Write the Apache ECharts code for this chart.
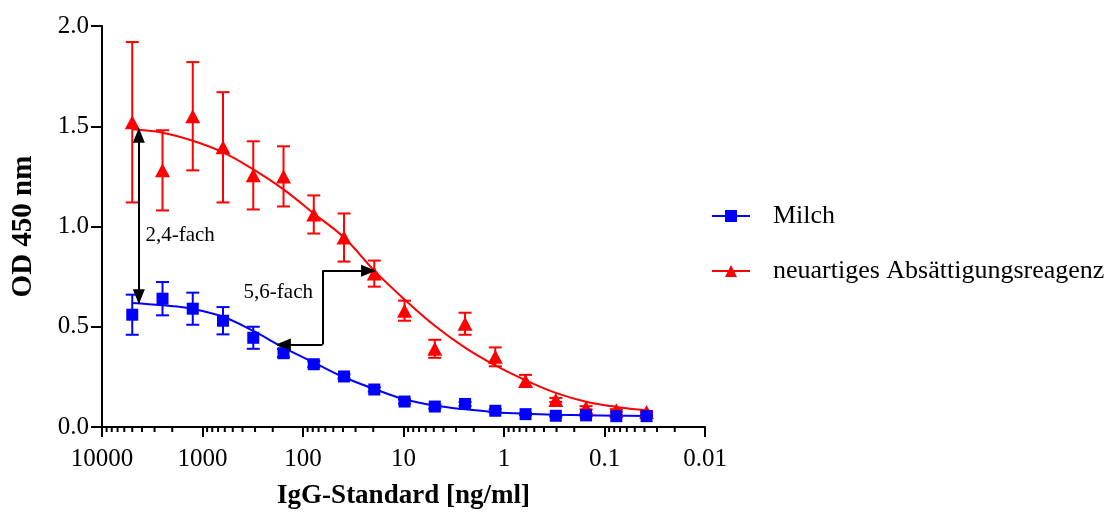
<!DOCTYPE html>
<html>
<head>
<meta charset="utf-8">
<script src="https://cdn.jsdelivr.net/npm/echarts@6/dist/echarts.min.js"></script>
<style>
html,body{margin:0;padding:0;background:#fff;}
#chart{width:1117px;height:515px;}
</style>
</head>
<body>
<div id="chart"></div>
<script>
// Concentrations (ng/ml), serial 1:2 dilution
var conc = [5000, 2500, 1250, 625, 312.5, 156.25, 78.125, 39.0625, 19.53125, 9.765625,
  4.8828125, 2.44140625, 1.220703125, 0.6103515625, 0.30517578125, 0.152587890625,
  0.0762939453125, 0.03814697265625];

// Milch (blue squares): mean OD and SD
var milchMean = [0.56, 0.64, 0.59, 0.53, 0.445, 0.368, 0.313, 0.252, 0.187, 0.127,
  0.102, 0.115, 0.081, 0.064, 0.056, 0.058, 0.054, 0.054];
var milchErr = [0.10, 0.083, 0.08, 0.068, 0.055, 0.02, 0.015, 0.01, 0.01, 0.01,
  0.01, 0.01, 0.008, 0.005, 0.005, 0.005, 0.005, 0.005];
// Milch fitted curve
var milchFit = [0.619, 0.607, 0.589, 0.55, 0.479, 0.396, 0.322, 0.248, 0.19, 0.138,
  0.107, 0.088, 0.074, 0.066, 0.061, 0.058, 0.056, 0.055];

// neuartiges Absättigungsreagenz (red triangles)
var neuMean = [1.52, 1.28, 1.55, 1.395, 1.255, 1.25, 1.06, 0.945, 0.765, 0.58,
  0.39, 0.515, 0.35, 0.23, 0.135, 0.096, 0.083, 0.075];
var neuErr = [0.40, 0.20, 0.27, 0.275, 0.17, 0.15, 0.095, 0.12, 0.065, 0.05,
  0.045, 0.055, 0.047, 0.03, 0.01, 0.008, 0.006, 0.005];
var neuFit = [1.485, 1.468, 1.428, 1.37, 1.285, 1.185, 1.065, 0.945, 0.78, 0.636,
  0.505, 0.396, 0.307, 0.233, 0.17, 0.126, 0.1, 0.083];

// Axis tick labels
var xTickValues = [10000, 1000, 100, 10, 1, 0.1, 0.01];
var xTickLabels = ['10000', '1000', '100', '10', '1', '0.1', '0.01'];
var yTickLabels = ['0.0', '0.5', '1.0', '1.5', '2.0'];

var seriesNames = ['Milch', 'neuartiges Absättigungsreagenz'];
var BLUE = '#0000ff', RED = '#ff0000';
var FONT = 'Liberation Serif';

// Annotation arrows (data coordinates)
var arrow24 = [[4300, 1.485], [4300, 0.62]];
var arrow56 = [[180, 0.412], [64, 0.412], [64, 0.779], [19.4, 0.779]];
var labels = [
  {text: '2,4-fach', at: [3700, 0.955]},
  {text: '5,6-fach', at: [390, 0.673]}
];

// Minor ticks of log axis (2..9 in each decade)
var minorTicks = [];
for (var d = -2; d < 4; d++) {
  for (var k = 2; k <= 9; k++) minorTicks.push(k * Math.pow(10, d));
}

function pairs(xs, ys) { return xs.map(function (x, i) { return [x, ys[i]]; }); }
function errData(xs, m, e) { return xs.map(function (x, i) { return [x, m[i] - e[i], m[i] + e[i]]; }); }

function errRender(color) {
  return function (params, api) {
    var x = api.value(0), lo = api.value(1), hi = api.value(2);
    var p1 = api.coord([x, hi]), p2 = api.coord([x, lo]);
    var w = 6.5;
    var st = {stroke: color, lineWidth: 2, fill: null};
    return {type: 'group', children: [
      {type: 'line', shape: {x1: p1[0], y1: p1[1], x2: p2[0], y2: p2[1]}, style: st},
      {type: 'line', shape: {x1: p1[0] - w, y1: p1[1], x2: p1[0] + w, y2: p1[1]}, style: st},
      {type: 'line', shape: {x1: p2[0] - w, y1: p2[1], x2: p2[0] + w, y2: p2[1]}, style: st}
    ]};
  };
}

var arrowSym = [12, 15];
var mlData = [
  [{coord: arrow24[0], symbol: 'triangle', symbolSize: arrowSym, symbolOffset: [0, 6]},
   {coord: arrow24[1], symbol: 'triangle', symbolSize: arrowSym, symbolOffset: [0, 6]}],
  [{coord: arrow56[1], symbol: 'none'},
   {coord: arrow56[0], symbol: 'triangle', symbolSize: arrowSym, symbolOffset: [0, 6]}],
  [{coord: arrow56[1], symbol: 'none'}, {coord: arrow56[2], symbol: 'none'}],
  [{coord: arrow56[2], symbol: 'none'},
   {coord: arrow56[3], symbol: 'triangle', symbolSize: arrowSym, symbolOffset: [0, 6]}]
];

var chart = echarts.init(document.getElementById('chart'), null, {renderer: 'canvas'});
chart.setOption({
  animation: false,
  backgroundColor: '#fff',
  textStyle: {fontFamily: FONT, color: '#000'},
  grid: {left: 102, top: 26, width: 603, height: 404, containLabel: false},
  legend: {
    orient: 'vertical',
    left: 706,
    top: 198,
    itemWidth: 38,
    itemHeight: 15,
    itemGap: 29,
    selectedMode: false,
    textStyle: {fontFamily: FONT, fontSize: 26, color: '#000', padding: [0, 0, 0, 18]},
    data: [
      {name: seriesNames[0], lineStyle: {opacity: 1, width: 2, color: BLUE}},
      {name: seriesNames[1], lineStyle: {opacity: 1, width: 2, color: RED}}
    ]
  },
  xAxis: {
    type: 'log',
    logBase: 10,
    min: 0.01,
    max: 10000,
    inverse: true,
    name: 'IgG-Standard [ng/ml]',
    nameLocation: 'middle',
    nameGap: 56,
    nameTextStyle: {fontFamily: FONT, fontWeight: 'bold', fontSize: 27, color: '#000'},
    axisLine: {show: true, lineStyle: {color: '#000', width: 2}},
    axisTick: {show: true, length: 10, lineStyle: {color: '#000', width: 2}},
    axisLabel: {
      fontFamily: FONT, fontSize: 25, color: '#000', margin: 20,
      formatter: function (v) {
        for (var i = 0; i < xTickValues.length; i++) {
          if (Math.abs(Math.log10(v) - Math.log10(xTickValues[i])) < 1e-6) return xTickLabels[i];
        }
        return '';
      }
    },
    splitLine: {show: false}
  },
  yAxis: {
    type: 'value',
    min: 0,
    max: 2,
    interval: 0.5,
    name: 'OD 450 nm',
    nameLocation: 'middle',
    nameGap: 64,
    nameTextStyle: {fontFamily: FONT, fontWeight: 'bold', fontSize: 29, color: '#000'},
    axisLine: {show: true, lineStyle: {color: '#000', width: 2}},
    axisTick: {show: true, length: 11, lineStyle: {color: '#000', width: 2}},
    axisLabel: {
      fontFamily: FONT, fontSize: 25, color: '#000', margin: 13,
      formatter: function (v) { return yTickLabels[Math.round(v / 0.5)]; }
    },
    splitLine: {show: false}
  },
  series: [
    {
      name: 'minorTicks', type: 'custom', silent: true, clip: false, z: 5,
      data: minorTicks.map(function (v) { return [v, 0]; }),
      renderItem: function (params, api) {
        var p = api.coord([api.value(0), 0]);
        return {type: 'line', shape: {x1: p[0], y1: p[1], x2: p[0], y2: p[1] + 5},
          style: {stroke: '#000', lineWidth: 2}};
      }
    },
    {
      name: 'milchFit', type: 'line', data: pairs(conc, milchFit), smooth: 0.4,
      showSymbol: false, symbol: 'none', silent: true, z: 2,
      lineStyle: {color: BLUE, width: 2}
    },
    {
      name: 'neuFit', type: 'line', data: pairs(conc, neuFit), smooth: 0.4,
      showSymbol: false, symbol: 'none', silent: true, z: 2,
      lineStyle: {color: RED, width: 2}
    },
    {
      name: 'neuErr', type: 'custom', silent: true, z: 3,
      data: errData(conc, neuMean, neuErr), renderItem: errRender(RED)
    },
    {
      name: 'milchErr', type: 'custom', silent: true, z: 3,
      data: errData(conc, milchMean, milchErr), renderItem: errRender(BLUE)
    },
    {
      name: seriesNames[1], type: 'line', data: pairs(conc, neuMean),
      symbol: 'triangle', symbolSize: [15, 14], showSymbol: true, z: 4,
      itemStyle: {color: RED}, color: RED,
      lineStyle: {width: 0, opacity: 0}
    },
    {
      name: seriesNames[0], type: 'line', data: pairs(conc, milchMean),
      symbol: 'rect', symbolSize: 12, showSymbol: true, z: 4,
      itemStyle: {color: BLUE}, color: BLUE,
      lineStyle: {width: 0, opacity: 0}
    },
    {
      name: 'annotations', type: 'scatter', data: [], silent: true, z: 6,
      markLine: {
        silent: true,
        animation: false,
        label: {show: false},
        lineStyle: {color: '#000', width: 2, type: 'solid'},
        itemStyle: {color: '#000'},
        emphasis: {disabled: true},
        data: mlData
      },
      markPoint: {
        silent: true,
        animation: false,
        symbol: 'circle',
        symbolSize: 0,
        data: labels.map(function (l) {
          return {coord: l.at, label: {show: true, formatter: l.text, position: 'right', distance: 0,
            fontFamily: FONT, fontSize: 21, color: '#000'}};
        })
      }
    }
  ]
});
</script>
</body>
</html>
